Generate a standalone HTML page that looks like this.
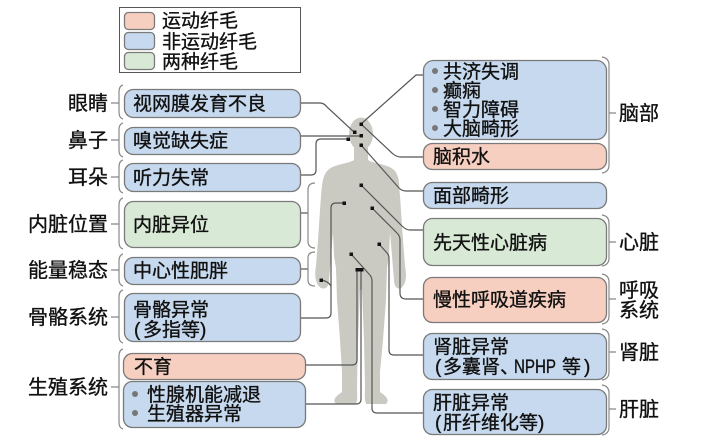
<!DOCTYPE html>
<html><head><meta charset="utf-8"><style>
html,body{margin:0;padding:0;background:#fff;}
svg{display:block;}
text{font-family:"Liberation Sans","Noto Sans CJK SC",sans-serif;fill:#111;stroke:#111;stroke-width:0.35;}
.bt{font-size:19px;}
.lb{font-size:20px;}
.bx{stroke:#7a7a7a;stroke-width:1.3;}
.b{fill:#c6d9ee;} .p{fill:#f7cfc0;} .g{fill:#d8ead6;}
.ln{fill:none;stroke:#555;stroke-width:1.2;}
.br{fill:none;stroke:#888;stroke-width:1.2;}
</style></head><body>
<svg width="720" height="444" viewBox="0 0 720 444" xmlns="http://www.w3.org/2000/svg">
<rect width="720" height="444" fill="#fff"/>

<!-- legend -->
<rect x="119.5" y="7.5" width="181" height="65" fill="#fff" stroke="#555" stroke-width="1"/>
<rect x="124.5" y="12.5" width="30" height="17" rx="4" class="p bx"/>
<rect x="124.5" y="32.5" width="30" height="17" rx="4" class="b bx"/>
<rect x="124.5" y="52.5" width="30" height="17" rx="4" class="g bx"/>
<text x="162" y="27" class="bt">运动纤毛</text>
<text x="162" y="48" class="bt">非运动纤毛</text>
<text x="162" y="68" class="bt">两种纤毛</text>

<!-- body -->
<g fill="#cacac3">
<ellipse cx="361" cy="134" rx="12" ry="16.5"/>
<path d="M354,146 L354,160 C348,164 334,164 328,170 C322,176 322,186 321,196 L318,240 L316,266 C314,276 316,285 321,288 C326,290 329,286 329,280 L331,256 L333,232 L334,256 L336,268 L337,300 L340,340 L342,372 L342,392 C336,396 332,400 336,404 L356,404 C358,398 357,392 357,386 L358,340 L360,290 L362,290 L364,340 L365,386 C365,392 364,398 366,404 L386,404 C390,400 386,396 380,392 L380,372 L383,340 L386,300 L387,268 L389,256 L390,232 L392,256 L394,280 C394,286 397,290 401,288 C406,285 407,276 405,266 L403,240 L400,196 C399,186 400,176 394,170 C388,164 374,164 368,160 L368,146 Z"/>
</g>

<!-- connectors -->
<path class="ln" d="M300,103 H320 Q324,103 327,107 L354,132"/>
<path class="ln" d="M300,136 H361"/>
<path class="ln" d="M300,175 H311 Q316,175 316,170 V144 Q316,139 321,139 H348"/>
<path class="ln" d="M361,124 L416,75 H423"/>
<path class="ln" d="M361,124 L392,153 Q396,157 401,157 H423"/>
<path class="ln" d="M361,145 L399,188 Q402,191 406,191 H423"/>
<path class="ln" d="M361,185 L402,226 Q406,230 410,230 H423"/>
<path class="ln" d="M372,208 L397,233 Q400,236 400,240 V293 Q400,299 406,299 H423"/>
<path class="ln" d="M379,244 L387,253 Q389,255 389,258 V350 Q389,355 394,355 H423"/>
<path class="ln" d="M351,254 L369,274 Q372,277 372,281 V408 Q372,413 377,413 H423"/>
<path class="ln" d="M357,270 V360 Q357,365 352,365 H305"/>
<path class="ln" d="M361,270 V399 Q361,404 356,404 H305"/>
<path class="ln" d="M344,203 H336 Q331,203 331,208 V313 Q331,318 326,318 H300"/>
<path class="ln" d="M321,280 Q328,281 331,286"/>
<path class="ln" d="M300,213 H308"/>
<path class="br" d="M315,183 Q308,183 308,190 V241 Q308,248 315,248"/>
<path class="ln" d="M300,269 H308"/>
<path class="br" d="M315,252 Q308,252 308,258 V280 Q308,286 315,286"/>

<!-- dots -->
<g fill="#111">
<rect x="359.5" y="122.5" width="3.5" height="3.5"/>
<rect x="353" y="130.5" width="3.5" height="3.5"/>
<rect x="359.5" y="134" width="3.5" height="3.5"/>
<rect x="346.5" y="137.5" width="3.5" height="3.5"/>
<rect x="359.5" y="143.5" width="3.5" height="3.5"/>
<rect x="359.5" y="183.5" width="3.5" height="3.5"/>
<rect x="370.5" y="206.5" width="3.5" height="3.5"/>
<rect x="342.5" y="201.5" width="3.5" height="3.5"/>
<rect x="377.5" y="242.5" width="3.5" height="3.5"/>
<rect x="349.5" y="252.5" width="3.5" height="3.5"/>
<rect x="319.5" y="278.5" width="3.5" height="3.5"/>
<rect x="355.5" y="268" width="8" height="3.5"/>
</g>

<!-- left boxes -->
<rect x="124.5" y="89.5" width="176" height="28" rx="9" class="b bx"/>
<text x="133" y="110" class="bt">视网膜发育不良</text>
<rect x="124.5" y="127.5" width="176" height="27" rx="9" class="b bx"/>
<text x="133" y="147" class="bt">嗅觉缺失症</text>
<rect x="124.5" y="163.5" width="176" height="28" rx="9" class="b bx"/>
<text x="133" y="184" class="bt">听力失常</text>
<rect x="124.5" y="201.5" width="176" height="46" rx="9" class="g bx"/>
<text x="133" y="231" class="bt">内脏异位</text>
<rect x="124.5" y="257.5" width="176" height="27" rx="9" class="b bx"/>
<text x="133" y="277" class="bt">中心性肥胖</text>
<rect x="124.5" y="293.5" width="176" height="48" rx="9" class="b bx"/>
<text x="133" y="316" class="bt">骨骼异常</text>
<text y="336" class="bt"><tspan x="134">(</tspan><tspan x="143">多指等</tspan><tspan x="200">)</tspan></text>
<rect x="123.5" y="353.5" width="182" height="26" rx="9" class="p bx"/>
<text x="134" y="373" class="bt">不育</text>
<rect x="123.5" y="381.5" width="182" height="46" rx="9" class="b bx"/>
<circle cx="135" cy="394" r="3" fill="#777"/>
<circle cx="135" cy="413" r="3" fill="#777"/>
<text x="147" y="401" class="bt">性腺机能减退</text>
<text x="147" y="420" class="bt">生殖器异常</text>

<!-- left labels -->
<text x="108" y="110" text-anchor="end" class="lb">眼睛</text>
<text x="108" y="147" text-anchor="end" class="lb">鼻子</text>
<text x="108" y="184" text-anchor="end" class="lb">耳朵</text>
<text x="108" y="231" text-anchor="end" class="lb">内脏位置</text>
<text x="108" y="277" text-anchor="end" class="lb">能量稳态</text>
<text x="108" y="324" text-anchor="end" class="lb">骨骼系统</text>
<text x="108" y="394" text-anchor="end" class="lb">生殖系统</text>
<!-- left brackets -->
<path class="br" d="M123,85 Q119,86 119,92 V112 Q119,118 123,119 M111,103 H119"/>
<path class="br" d="M123,123 Q119,124 119,130 V150 Q119,156 123,157 M111,140 H119"/>
<path class="br" d="M123,160 Q119,161 119,167 V186 Q119,192 123,193 M111,177 H119"/>
<path class="br" d="M123,198 Q119,199 119,205 V242 Q119,248 123,249 M111,224 H119"/>
<path class="br" d="M123,254 Q119,255 119,261 V279 Q119,285 123,286 M111,270 H119"/>
<path class="br" d="M123,290 Q119,291 119,297 V336 Q119,342 123,343 M111,317 H119"/>
<path class="br" d="M123,349 Q119,350 119,356 V422 Q119,428 123,429 M111,387 H119"/>

<!-- right boxes -->
<rect x="423.5" y="60.5" width="183" height="79" rx="10" class="b bx"/>
<g fill="#777">
<circle cx="435" cy="71" r="3"/><circle cx="435" cy="90" r="3"/><circle cx="435" cy="109" r="3"/><circle cx="435" cy="128" r="3"/>
</g>
<text x="443" y="78" class="bt">共济失调</text>
<text x="443" y="97" class="bt">癫痫</text>
<text x="443" y="116" class="bt">智力障碍</text>
<text x="443" y="135" class="bt">大脑畸形</text>
<rect x="423.5" y="143.5" width="183" height="26" rx="9" class="p bx"/>
<text x="433" y="163" class="bt">脑积水</text>
<rect x="423.5" y="182.5" width="183" height="26" rx="9" class="b bx"/>
<text x="433" y="202" class="bt">面部畸形</text>
<rect x="423.5" y="218.5" width="183" height="47" rx="9" class="g bx"/>
<text x="433" y="249" class="bt">先天性心脏病</text>
<rect x="423.5" y="277.5" width="183" height="45" rx="9" class="p bx"/>
<text x="433" y="306" class="bt">慢性呼吸道疾病</text>
<rect x="423.5" y="333.5" width="183" height="46" rx="9" class="b bx"/>
<text x="433" y="353" class="bt">肾脏异常</text>
<text y="373" class="bt"><tspan x="435">(</tspan><tspan x="443">多囊肾、</tspan><tspan x="514" textLength="42" lengthAdjust="spacingAndGlyphs">NPHP</tspan><tspan x="562">等</tspan><tspan x="584">)</tspan></text>
<rect x="423.5" y="389.5" width="183" height="45" rx="9" class="b bx"/>
<text x="433" y="409" class="bt">肝脏异常</text>
<text y="429" class="bt"><tspan x="435">(</tspan><tspan x="443">肝纤维化等</tspan><tspan x="538">)</tspan></text>

<!-- right brackets -->
<path class="br" d="M602,57 Q609,58 609,65 V165 Q609,172 602,173 M609,113 H616"/>
<path class="br" d="M602,215 Q609,216 609,223 V258 Q609,265 602,266 M609,242 H616"/>
<path class="br" d="M602,274 Q609,275 609,282 V316 Q609,323 602,324 M609,299 H616"/>
<path class="br" d="M602,329 Q609,330 609,337 V372 Q609,379 602,380 M609,352 H616"/>
<path class="br" d="M602,385 Q609,386 609,393 V427 Q609,434 602,435 M609,409 H616"/>

<!-- right labels -->
<text x="619" y="120" class="lb">脑部</text>
<text x="619" y="249" class="lb">心脏</text>
<text x="619" y="297" class="lb">呼吸</text>
<text x="619" y="317" class="lb">系统</text>
<text x="619" y="359" class="lb">肾脏</text>
<text x="619" y="416" class="lb">肝脏</text>
</svg>
</body></html>
